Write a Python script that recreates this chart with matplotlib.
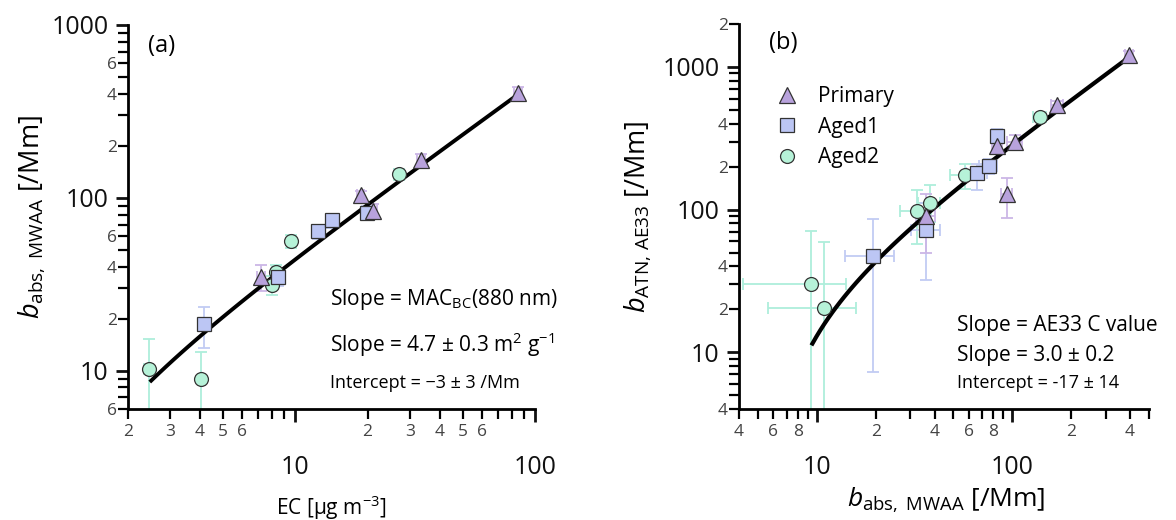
import numpy as np
import matplotlib
matplotlib.use("Agg")
import matplotlib.pyplot as plt
from matplotlib.ticker import FixedLocator, FuncFormatter
from matplotlib.lines import Line2D

plt.rcParams['font.family'] = ['Open Sans', 'DejaVu Sans']
plt.rcParams['mathtext.fontset'] = 'custom'
plt.rcParams['mathtext.rm'] = 'Open Sans'
plt.rcParams['mathtext.it'] = 'Open Sans:italic'
plt.rcParams['mathtext.bf'] = 'Open Sans:bold'

# ---------------- panel (a): EC vs b_abs,MWAA ----------------
a_prim_x = [7.2, 18.7, 21.1, 33.5, 85.0]
a_prim_y = [35.0, 104.0, 84.0, 165.0, 405.0]
a_prim_ylo = [6.0, 6.0, 8.0, 15.0, 30.0]
a_prim_yhi = [6.0, 6.0, 8.0, 15.0, 30.0]
a_prim_xerr = [0.3, 0.6, 0.8, 1.3, 3.0]

a_aged1_x = [4.17, 8.5, 12.4, 14.2, 19.9]
a_aged1_y = [18.5, 35.0, 64.0, 74.0, 82.0]
a_aged1_ylo = [5.0, 4.0, 6.0, 7.0, 8.0]
a_aged1_yhi = [5.0, 4.0, 6.0, 7.0, 8.0]
a_aged1_xerr = [0.2, 0.3, 0.4, 0.5, 0.7]

a_aged2_x = [2.44, 4.05, 8.0, 8.3, 9.6, 27.0]
a_aged2_y = [10.2, 8.9, 31.5, 37.0, 56.0, 137.0]
a_aged2_ylo = [6.0, 5.5, 4.0, 4.0, 5.0, 10.0]
a_aged2_yhi = [5.0, 4.0, 4.0, 4.0, 5.0, 10.0]
a_aged2_xerr = [0.1, 0.1, 0.3, 0.3, 0.3, 0.9]

a_slope, a_intercept = 4.7, -3.0
a_fit_x = [2.5, 82.0]

# ---------------- panel (b): b_abs,MWAA vs b_ATN,AE33 ----------------
b_prim_x = [36.2, 84.0, 94.0, 103.0, 169.0, 396.0]
b_prim_y = [90.0, 281.0, 129.5, 296.0, 541.0, 1218.0]
b_prim_xlo = [4.0, 5.0, 6.0, 9.0, 12.0, 20.0]
b_prim_xhi = [4.0, 5.0, 6.0, 9.0, 12.0, 20.0]
b_prim_ylo = [40.0, 25.0, 42.0, 35.0, 40.0, 80.0]
b_prim_yhi = [38.0, 25.0, 37.0, 35.0, 40.0, 80.0]

b_aged1_x = [19.3, 36.2, 66.3, 75.9, 83.8]
b_aged1_y = [47.0, 72.0, 180.0, 202.0, 330.0]
b_aged1_xlo = [5.4, 6.0, 8.0, 8.0, 6.0]
b_aged1_xhi = [5.4, 6.5, 8.0, 8.0, 6.0]
b_aged1_ylo = [39.7, 40.0, 43.0, 25.0, 40.0]
b_aged1_yhi = [38.5, 40.0, 30.0, 25.0, 40.0]

b_aged2_x = [9.39, 10.9, 32.6, 37.8, 57.2, 138.0]
b_aged2_y = [30.3, 20.5, 97.6, 111.6, 174.6, 442.0]
b_aged2_xlo = [5.2, 5.25, 6.0, 5.0, 9.0, 10.0]
b_aged2_xhi = [4.7, 5.0, 6.0, 5.0, 10.0, 10.0]
b_aged2_ylo = [27.0, 17.5, 40.0, 30.0, 35.0, 20.0]
b_aged2_yhi = [40.6, 39.0, 40.0, 38.0, 35.0, 20.0]

b_slope, b_intercept = 3.0, -17.0
b_fit_x = [9.5, 385.0]

# colours
c_prim, e_prim = '#b8a2dc', '#cbb6e6'
c_aged1, e_aged1 = '#bcc6f4', '#c2cbf3'
c_aged2, e_aged2 = '#b6f2d8', '#aeeedb'

fig = plt.figure(figsize=(11.76, 5.2), dpi=100)
ax1 = fig.add_axes([0.1088, 0.2135, 0.3461, 0.7385])
ax2 = fig.add_axes([0.6284, 0.2135, 0.3486, 0.7404])


def style_axis(ax, xmaj, xmin, xminlab, ymaj, ymin, yminlab):
    ax.set_xscale('log')
    ax.set_yscale('log')
    for s in ['top', 'right']:
        ax.spines[s].set_visible(False)
    for s in ['left', 'bottom']:
        ax.spines[s].set_linewidth(2)
    ax.xaxis.set_major_locator(FixedLocator(xmaj))
    ax.xaxis.set_minor_locator(FixedLocator(xmin))
    ax.yaxis.set_major_locator(FixedLocator(ymaj))
    ax.yaxis.set_minor_locator(FixedLocator(ymin))
    ax.xaxis.set_major_formatter(FuncFormatter(lambda v, p: '%d' % round(v)))
    ax.yaxis.set_major_formatter(FuncFormatter(lambda v, p: '%d' % round(v)))
    ax.xaxis.set_minor_formatter(FuncFormatter(
        lambda v, p: xminlab.get(round(v, 3), '')))
    ax.yaxis.set_minor_formatter(FuncFormatter(
        lambda v, p: yminlab.get(round(v, 3), '')))
    ax.tick_params(which='major', length=9, width=2, labelsize=18, colors='#111111')
    ax.tick_params(which='minor', length=7, width=1.6, labelsize=12.5, labelcolor='#444444')
    ax.tick_params(axis='x', which='major', pad=24)
    ax.tick_params(axis='x', which='minor', pad=4)
    ax.tick_params(axis='y', which='major', pad=5)
    ax.tick_params(axis='y', which='minor', pad=1)


def draw_group(ax, x, y, xlo, xhi, ylo, yhi, marker, ms, fc, ec):
    ax.errorbar(x, y, xerr=[xlo, xhi], yerr=[ylo, yhi], fmt='none',
                ecolor=ec, elinewidth=1.3, capsize=4, capthick=1.3, zorder=2)
    ax.plot(x, y, linestyle='none', marker=marker, ms=ms, mfc=fc,
            mec='#333333', mew=0.9, zorder=4)


# ---- panel (a)
fx = np.geomspace(a_fit_x[0], a_fit_x[1], 50)
ax1.plot(fx, a_slope * fx + a_intercept, color='black', lw=2.8, zorder=3)
draw_group(ax1, a_aged2_x, a_aged2_y, a_aged2_xerr, a_aged2_xerr,
           a_aged2_ylo, a_aged2_yhi, 'o', 10, c_aged2, e_aged2)
draw_group(ax1, a_aged1_x, a_aged1_y, a_aged1_xerr, a_aged1_xerr,
           a_aged1_ylo, a_aged1_yhi, 's', 10, c_aged1, e_aged1)
draw_group(ax1, a_prim_x, a_prim_y, a_prim_xerr, a_prim_xerr,
           a_prim_ylo, a_prim_yhi, '^', 12, c_prim, e_prim)

style_axis(ax1,
           [10, 100],
           [2, 3, 4, 5, 6, 7, 8, 9, 20, 30, 40, 50, 60, 70, 80, 90],
           {2: '2', 3: '3', 4: '4', 5: '5', 6: '6',
            20: '2', 30: '3', 40: '4', 50: '5', 60: '6'},
           [10, 100, 1000],
           [6, 7, 8, 9, 20, 30, 40, 50, 60, 70, 80, 90,
            200, 300, 400, 500, 600, 700, 800, 900],
           {6: '6', 20: '2', 40: '4', 60: '6', 200: '2', 400: '4', 600: '6'})
ax1.set_xlim(2, 100)
ax1.set_ylim(6, 1000)
ax1.set_xlabel('EC [µg m$^{-3}$]', fontsize=15, labelpad=10)
ax1.set_ylabel(r'$b_{\mathrm{abs,\ MWAA}}$ [/Mm]', fontsize=19.5, labelpad=2)
ax1.yaxis.set_label_coords(-0.2, 0.5)
ax1.text(0.05, 0.945, '(a)', transform=ax1.transAxes, fontsize=17, va='center')
ax1.text(0.496, 0.284, r'Slope = MAC$_{\mathrm{BC}}$(880 nm)', transform=ax1.transAxes,
         fontsize=15, va='center', clip_on=False)
ax1.text(0.496, 0.167, r'Slope = 4.7 ± 0.3 m$^{2}$ g$^{-1}$', transform=ax1.transAxes,
         fontsize=15, va='center', clip_on=False)
ax1.text(0.496, 0.068, 'Intercept = \u22123 ± 3 /Mm', transform=ax1.transAxes,
         fontsize=13, va='center', clip_on=False)

# ---- panel (b)
fx = np.geomspace(b_fit_x[0], b_fit_x[1], 80)
ax2.plot(fx, b_slope * fx + b_intercept, color='black', lw=3, zorder=3)
draw_group(ax2, b_aged2_x, b_aged2_y, b_aged2_xlo, b_aged2_xhi,
           b_aged2_ylo, b_aged2_yhi, 'o', 10, c_aged2, e_aged2)
draw_group(ax2, b_aged1_x, b_aged1_y, b_aged1_xlo, b_aged1_xhi,
           b_aged1_ylo, b_aged1_yhi, 's', 10, c_aged1, e_aged1)
draw_group(ax2, b_prim_x, b_prim_y, b_prim_xlo, b_prim_xhi,
           b_prim_ylo, b_prim_yhi, '^', 12, c_prim, e_prim)

style_axis(ax2,
           [10, 100],
           [4, 5, 6, 7, 8, 9, 20, 30, 40, 50, 60, 70, 80, 90, 200, 300, 400, 500],
           {4: '4', 6: '6', 8: '8', 20: '2', 40: '4', 60: '6', 80: '8',
            200: '2', 400: '4'},
           [10, 100, 1000],
           [4, 5, 6, 7, 8, 9, 20, 30, 40, 50, 60, 70, 80, 90,
            200, 300, 400, 500, 600, 700, 800, 900, 2000],
           {4: '4', 20: '2', 40: '4', 200: '2', 400: '4', 2000: '2'})
ax2.set_xlim(4, 500)
ax2.set_ylim(4, 2000)
ax2.set_xlabel(r'$b_{\mathrm{abs,\ MWAA}}$ [/Mm]', fontsize=19, labelpad=0)
ax2.xaxis.set_label_coords(0.505, -0.2)
ax2.set_ylabel(r'$b_{\mathrm{ATN,\,AE33}}$ [/Mm]', fontsize=19.5, labelpad=2)
ax2.yaxis.set_label_coords(-0.21, 0.5)
ax2.text(0.072, 0.95, '(b)', transform=ax2.transAxes, fontsize=17, va='center')
ax2.text(0.532, 0.218, 'Slope = AE33 C value', transform=ax2.transAxes,
         fontsize=15, va='center', clip_on=False)
ax2.text(0.532, 0.14, 'Slope = 3.0 ± 0.2', transform=ax2.transAxes,
         fontsize=15, va='center', clip_on=False)
ax2.text(0.532, 0.0675, 'Intercept = -17 ± 14', transform=ax2.transAxes,
         fontsize=13, va='center', clip_on=False)

handles = [
    Line2D([], [], ls='none', marker='^', ms=12, mfc=c_prim, mec='#333333', mew=0.9),
    Line2D([], [], ls='none', marker='s', ms=10, mfc=c_aged1, mec='#333333', mew=0.9),
    Line2D([], [], ls='none', marker='o', ms=10, mfc=c_aged2, mec='#333333', mew=0.9),
]
ax2.legend(handles, ['Primary', 'Aged1', 'Aged2'], loc='upper left',
           bbox_to_anchor=(0.045, 0.86), frameon=False, fontsize=15,
           handletextpad=0.5, labelspacing=0.45, borderaxespad=0)

fig.savefig('out.png', dpi=100)
